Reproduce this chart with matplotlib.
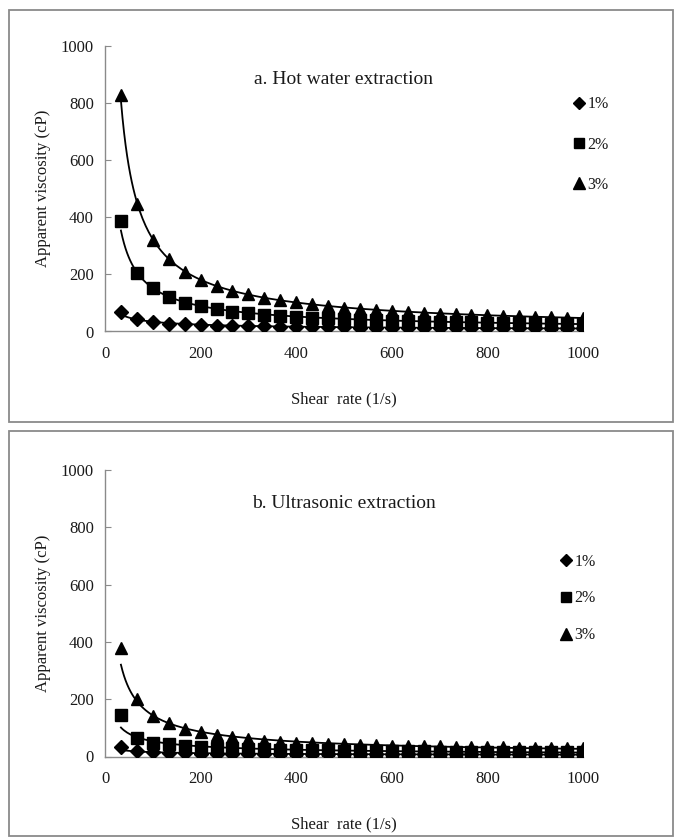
import numpy as np
import matplotlib.pyplot as plt
from matplotlib.patches import Rectangle
from matplotlib.lines import Line2D

plt.rcParams['font.family'] = ['Liberation Serif', 'DejaVu Serif']

shear_rate = np.arange(1, 31) * 1000 / 30
labels = ['1%', '2%', '3%']
markers = ['D', 's', '^']
msizes = [7, 8, 9]

# panel a: hot water extraction (cP)
hot_1 = [70, 44, 33, 28, 25, 23, 21, 20, 19, 18, 17, 16, 16, 15, 15,
         14, 14, 14, 13, 13, 13, 13, 12, 12, 12, 12, 12, 11, 11, 11]
hot_2 = [386, 205, 153, 121, 101, 88, 78, 70, 64, 59, 55, 51, 48, 46, 43,
         41, 40, 38, 37, 35, 34, 33, 32, 31, 30, 30, 29, 28, 28, 27]
hot_3 = [830, 447, 320, 253, 208, 180, 160, 143, 130, 119, 110, 102, 95, 89, 84,
         80, 76, 72, 69, 66, 63, 61, 59, 57, 55, 53, 52, 50, 49, 48]

# panel b: ultrasonic extraction (cP)
ult_1 = [32, 20, 14, 12, 11, 10, 10, 9, 9, 9, 9, 8, 8, 8, 8,
         8, 8, 8, 8, 8, 7, 7, 7, 7, 7, 7, 7, 7, 7, 7]
ult_2 = [145, 64, 48, 42, 36, 33, 30, 28, 26, 25, 24, 23, 22, 21, 20,
         20, 19, 19, 18, 18, 17, 17, 17, 16, 16, 16, 16, 15, 15, 15]
ult_3 = [378, 199, 142, 116, 95, 85, 76, 68, 60, 55, 51, 48, 46, 44, 42,
         40, 39, 38, 37, 36, 35, 34, 33, 32, 32, 31, 31, 30, 30, 29]

titles = ['a. Hot water extraction', 'b. Ultrasonic extraction']
panels = [[hot_1, hot_2, hot_3], [ult_1, ult_2, ult_3]]

W, H = 677, 838
fig = plt.figure(figsize=(W / 100, H / 100), dpi=100)

gray = '#8a8a8a'
txt = '#1a1a1a'

# outer frames around each panel
for (y0, y1) in [(10, 422), (431, 836)]:
    fig.patches.append(Rectangle((9 / W, 1 - y1 / H), 664 / W, (y1 - y0) / H,
                                 transform=fig.transFigure, fill=False,
                                 edgecolor=gray, linewidth=1.3))

ax_rects = [[105 / W, 1 - 331.5 / H, 478 / W, 285.5 / H],
            [105 / W, 1 - 756.5 / H, 478 / W, 286.5 / H]]
leg_anchor = [(0.982, 0.8235), (0.955, 0.708)]
leg_space = [1.52, 1.3]

xfit = np.linspace(shear_rate[0], shear_rate[-1], 300)

for i in range(2):
    ax = fig.add_axes(ax_rects[i])
    handles = []
    for j, ys in enumerate(panels[i]):
        ys = np.array(ys, dtype=float)
        # power-law trend line (as in the spreadsheet)
        b, a = np.polyfit(np.log(shear_rate), np.log(ys), 1)
        ax.plot(xfit, np.exp(a) * xfit ** b, color='black', lw=1.3, zorder=2)
        ax.plot(shear_rate, ys, linestyle='none', marker=markers[j],
                markersize=msizes[j], color='black', zorder=3)
        handles.append(Line2D([], [], linestyle='none', marker=markers[j],
                              markersize=msizes[j] - 0.5, color='black'))
    ax.set_xlim(0, 1000)
    ax.set_ylim(0, 1000)
    ax.set_xticks([0, 200, 400, 600, 800, 1000])
    ax.set_yticks([0, 200, 400, 600, 800, 1000])
    for s in ['top', 'right']:
        ax.spines[s].set_visible(False)
    for s in ['left', 'bottom']:
        ax.spines[s].set_color(gray)
        ax.spines[s].set_linewidth(1.0)
    ax.tick_params(axis='y', direction='in', length=4, color=gray,
                   labelsize=12, labelcolor=txt, pad=8)
    ax.tick_params(axis='x', direction='in', length=0,
                   labelsize=12, labelcolor=txt, pad=10.5)
    ax.set_ylabel('Apparent viscosity (cP)', fontsize=12, color=txt, labelpad=7)
    ax.set_xlabel('Shear  rate (1/s)', fontsize=12, color=txt, labelpad=21)
    ax.text(500, 884, titles[i], ha='center', va='center', fontsize=14, color=txt)
    ax.legend(handles, labels, loc='upper left', bbox_to_anchor=leg_anchor[i],
              frameon=False, fontsize=11.5, handlelength=0.6, handletextpad=0.2,
              labelspacing=leg_space[i], borderpad=0, borderaxespad=0,
              labelcolor=txt)

fig.savefig('out.png', dpi=100)
